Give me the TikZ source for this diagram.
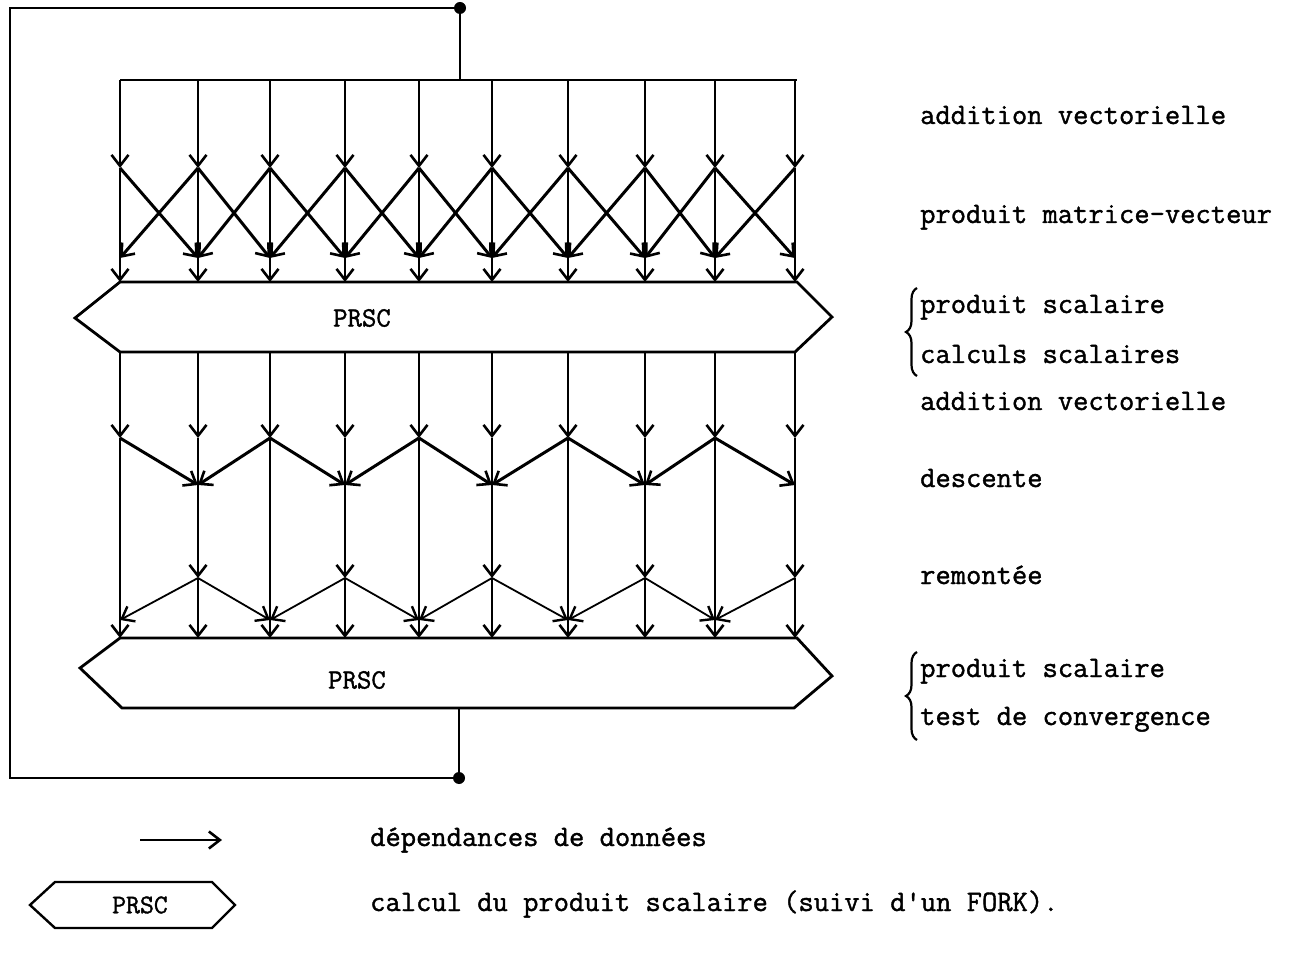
\documentclass[tikz,border=0pt]{standalone}
\usepackage{fontspec}
\newfontfamily\tw{Latin Modern Mono}[FakeBold=1.3]
\usetikzlibrary{arrows.meta,decorations.pathreplacing}
\begin{document}
\begin{tikzpicture}[x=1pt,y=-1pt,
  flow/.style={line width=2.6pt,-{Straight Barb[length=11pt,width=17pt,line width=2.6pt]}},
  thinflow/.style={line width=1.8pt,-{Straight Barb[length=11pt,width=17pt,line width=2.4pt]}},
  frame/.style={line width=2.8pt,line join=miter},
  lab/.style={anchor=base west,inner sep=0pt,font=\fontsize{29.7}{32}\selectfont\tw},
  boxlab/.style={inner sep=0pt,font=\fontsize{28}{30}\selectfont\tw},
  dot/.style={circle,fill=black,inner sep=0pt,minimum size=12pt},
  bracestyle/.style={line width=2.2pt,decorate,decoration={brace,amplitude=11pt}}]
\useasboundingbox (0,0) rectangle (1299,957);
% column coordinates
\foreach \xx [count=\i] in {120,198,270,345,419,492,568,645,715,795} {
  \coordinate (t\i) at (\xx,80);
  \coordinate (a\i) at (\xx,168);
  \coordinate (b\i) at (\xx,258);
  \coordinate (c\i) at (\xx,282);
  \coordinate (d\i) at (\xx,352);
  \coordinate (e\i) at (\xx,438);
  \coordinate (f\i) at (\xx,485);
  \coordinate (g\i) at (\xx,578);
  \coordinate (h\i) at (\xx,620);
  \coordinate (k\i) at (\xx,638);
}
% outer loop
\coordinate (top) at (460,80);
\coordinate (bot) at (459,708);
\coordinate (tl) at (10,8);
\coordinate (bl) at (10,778);
\node[dot] (fork) at (460,8) {};
\node[dot] (join) at (459,778) {};
\draw[frame] (top) -- (fork.center) -- (tl) -- (bl) -- (join.center) -- (bot);
% upper block
\coordinate (tR) at (797,80);
\draw[frame] (t1) -- (tR);
\foreach \i in {1,...,10} {
  \draw[flow] (t\i) -- (a\i);
  \draw[flow] (a\i) -- (c\i);
}
\foreach \i [evaluate=\i as \j using int(\i+1)] in {1,...,9} {
  \draw[flow,line width=3pt] (a\i) -- (b\j);
  \draw[flow,line width=3pt] (a\j) -- (b\i);
}
% PRSC 1
\coordinate (p1L) at (75,318);
\coordinate (p1R) at (832,317);
\coordinate (c1R) at (797,282);
\draw[frame] (c1) -- (c1R) -- (p1R) -- (d10) -- (d1) -- (p1L) -- cycle;
\node[boxlab] (prsc1) at (362,318) {PRSC};
% lower block
\foreach \i in {1,...,10} \draw[flow] (d\i) -- (e\i);
\foreach \i in {1,3,5,7,9} \draw[flow] (e\i) -- (k\i);
\foreach \i in {2,4,6,8,10} {
  \draw[flow] (e\i) -- (g\i);
  \draw[flow] (g\i) -- (k\i);
}
% descente
\foreach \i [evaluate=\i as \j using int(\i+1)] in {1,3,5,7,9}
  \draw[flow,line width=3pt] (e\i) -- (f\j);
\foreach \i [evaluate=\i as \j using int(\i-1)] in {3,5,7,9}
  \draw[flow,line width=3pt] (e\i) -- (f\j);
% remontee
\foreach \i [evaluate=\i as \j using int(\i-1)] in {2,4,6,8,10}
  \draw[thinflow] (g\i) -- (h\j);
\foreach \i [evaluate=\i as \j using int(\i+1)] in {2,4,6,8}
  \draw[thinflow] (g\i) -- (h\j);
% PRSC 2
\coordinate (p2L) at (80,668);
\coordinate (p2R) at (832,676);
\coordinate (k10R) at (797,638);
\coordinate (q1) at (122,708);
\coordinate (q10) at (794,708);
\draw[frame] (k1) -- (k10R) -- (p2R) -- (q10) -- (q1) -- (p2L) -- cycle;
\node[boxlab] (prsc2) at (357,680) {PRSC};
% right labels
\node[lab] (l1) at (920,124) {addition vectorielle};
\node[lab] (l2) at (920,223) {produit matrice-vecteur};
\node[lab] (l3) at (920,313) {produit scalaire};
\node[lab] (l4) at (920,363) {calculs scalaires};
\node[lab] (l5) at (920,410) {addition vectorielle};
\node[lab] (l6) at (920,487) {descente};
\node[lab] (l7) at (920,584) {remontée};
\node[lab] (l8) at (920,677) {produit scalaire};
\node[lab] (l9) at (920,725) {test de convergence};
\coordinate (br1a) at (917,376);
\coordinate (br1b) at (917,288);
\coordinate (br2a) at (917,740);
\coordinate (br2b) at (917,652);
\draw[bracestyle] (br1a) -- (br1b);
\draw[bracestyle] (br2a) -- (br2b);
% legend
\coordinate (la) at (140,840);
\coordinate (lb) at (222,840);
\draw[flow] (la) -- (lb);
\node[lab] (leg1) at (370,846) {dépendances de données};
\draw[frame,line width=2.4pt] (30,905) -- (55,882) -- (212,882) -- (235,905) -- (212,928) -- (55,928) -- cycle;
\node[boxlab,font=\fontsize{27}{29}\selectfont\tw] (prsc3) at (140,905) {PRSC};
\node[lab] (leg2) at (370,911) {calcul du produit scalaire (suivi d'un FORK).};
\end{tikzpicture}
\end{document}
